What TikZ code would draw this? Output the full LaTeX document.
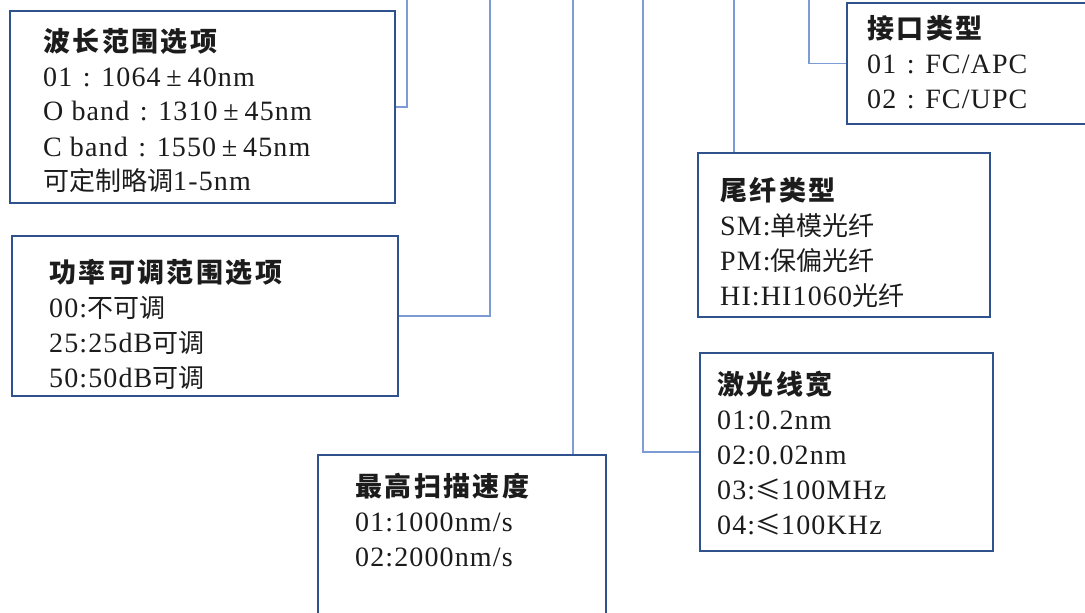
\documentclass[tikz,border=0pt]{standalone}
\usepackage{fontspec}
\setmainfont{Liberation Serif}[LetterSpace=4]
\newfontfamily\cjfam{Noto Sans CJK SC}
\newfontfamily\cjh{Noto Sans CJK SC}[LetterSpace=9]
\newcommand\cj{\fontsize{26pt}{35pt}\selectfont\cjfam}
\newcommand\hdr{\fontsize{27pt}{35pt}\selectfont\cjh\bfseries}
\newcommand\fcol{\makebox[29pt]{:}}
\newcommand\pmw{\makebox[27pt]{±}}
\definecolor{boxblue}{RGB}{47,82,143}
\definecolor{linkblue}{RGB}{125,156,214}
\definecolor{ink}{RGB}{28,28,28}
\tikzset{
  box/.style={draw=boxblue, line width=2.2pt, fill=none, rectangle, inner sep=0pt, anchor=north west},
  txt/.style={anchor=base west, inner sep=0pt, text=ink, font=\fontsize{28pt}{35pt}\selectfont},
  conn/.style={draw=linkblue, line width=1.4pt}
}
\begin{document}
\begin{tikzpicture}[x=1pt,y=-1pt]
\useasboundingbox (0,0) rectangle (1085,613);
\clip (0,0) rectangle (1085,613);
\fill[white] (0,0) rectangle (1085,613);

% boxes
\node[box, minimum width=385pt, minimum height=192pt] (b1) at (9,10) {};
\node[box, minimum width=386pt, minimum height=160pt] (b2) at (11,235) {};
\node[box, minimum width=288pt, minimum height=190pt] (b3) at (317,454) {};
\node[box, minimum width=260pt, minimum height=121pt] (b4) at (846,2) {};
\node[box, minimum width=292pt, minimum height=164pt] (b5) at (697,152) {};
\node[box, minimum width=293pt, minimum height=198pt] (b6) at (699,352) {};

% connector free ends
\coordinate (c1) at (407,0);
\coordinate (c2) at (490,0);
\coordinate (c3) at (573,0);
\coordinate (c6) at (643,0);
\coordinate (c5) at (734,0);
\coordinate (c4) at (809,0);

\draw[conn] (c1) |- (b1.east);
\draw[conn] (c2) |- (b2.east);
\draw[conn] (c3) -- (c3 |- b3.north);
\draw[conn] (c6) |- (b6.west);
\draw[conn] (c5) -- (c5 |- b5.north);
\draw[conn] (c4) |- (b4.west);

% texts
\node[txt] (t1) at (43,51) {\begin{tabular}[t]{@{}l@{}}
{\hdr 波长范围选项}\\
01\fcol 1064\pmw 40nm\\
O band\fcol 1310\pmw 45nm\\
C band\fcol 1550\pmw 45nm\\
{\cj 可定制略调}1-5nm
\end{tabular}};

\node[txt] (t2) at (49,282) {\begin{tabular}[t]{@{}l@{}}
{\hdr 功率可调范围选项}\\
00:{\cj 不可调}\\
25:25dB{\cj 可调}\\
50:50dB{\cj 可调}
\end{tabular}};

\node[txt] (t3) at (355,496) {\begin{tabular}[t]{@{}l@{}}
{\hdr 最高扫描速度}\\
01:1000nm/s\\
02:2000nm/s
\end{tabular}};

\node[txt] (t4) at (867,38) {\begin{tabular}[t]{@{}l@{}}
{\hdr 接口类型}\\
01\fcol FC/APC\\
02\fcol FC/UPC
\end{tabular}};

\node[txt] (t5) at (720,200) {\begin{tabular}[t]{@{}l@{}}
{\hdr 尾纤类型}\\
SM:{\cj 单模光纤}\\
PM:{\cj 保偏光纤}\\
HI:HI1060{\cj 光纤}
\end{tabular}};

\node[txt] (t6) at (717,394) {\begin{tabular}[t]{@{}l@{}}
{\hdr 激光线宽}\\
01:0.2nm\\
02:0.02nm\\
03:{\cj ≤}100MHz\\
04:{\cj ≤}100KHz
\end{tabular}};
\end{tikzpicture}
\end{document}
